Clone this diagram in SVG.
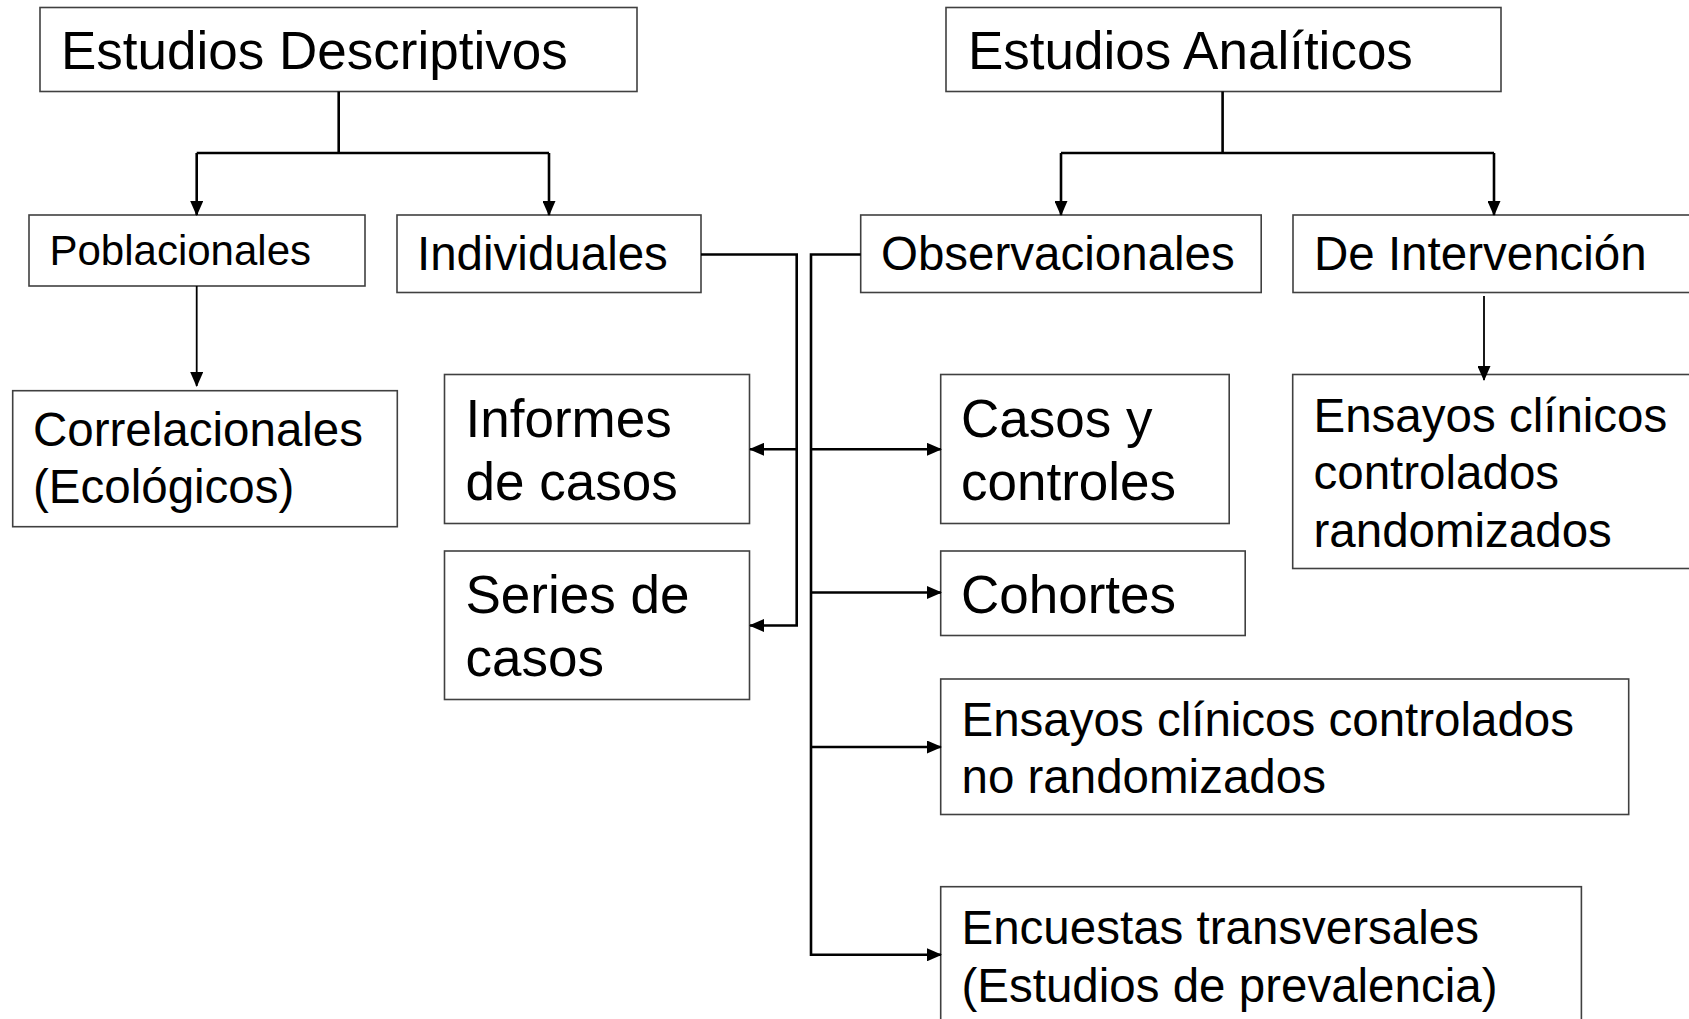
<svg xmlns="http://www.w3.org/2000/svg" width="1689" height="1019" viewBox="0 0 1689 1019">
<style>
.box{fill:#fff;stroke:#404040;stroke-width:1.6}
.t{font-family:"Liberation Sans",Arial,sans-serif;fill:#000;font-size:47.5px}
.big{font-size:53px}
.sm{font-size:42px}
.c{fill:none;stroke:#000;stroke-width:2.6}
.a{marker-end:url(#ah)}
</style>
<defs>
<marker id="ah" markerUnits="userSpaceOnUse" markerWidth="15" markerHeight="13" refX="14" refY="6.5" orient="auto">
<path d="M0,0 L15,6.5 L0,13 z" fill="#000"/>
</marker>
</defs>
<rect width="1689" height="1019" fill="#fff"/>

<g id="n-desc"><rect class="box" x="40" y="7.5" width="597" height="84"/><text class="t big" x="61" y="68.5">Estudios Descriptivos</text></g>
<g id="n-anal"><rect class="box" x="946" y="7.5" width="555" height="84"/><text class="t big" x="968" y="68.5">Estudios Analíticos</text></g>
<g id="n-pob"><rect class="box" x="29" y="215" width="336" height="71"/><text class="t sm" x="49.5" y="265">Poblacionales</text></g>
<g id="n-ind"><rect class="box" x="397" y="215" width="304" height="77.5"/><text class="t" x="417" y="270">Individuales</text></g>
<g id="n-obs"><rect class="box" x="860.7" y="215" width="400.5" height="77.5"/><text class="t" x="881" y="270">Observacionales</text></g>
<g id="n-int"><rect class="box" x="1293" y="215" width="420" height="77.5"/><text class="t" x="1314" y="270">De Intervención</text></g>
<g id="n-corr"><rect class="box" x="12.7" y="390.7" width="384.6" height="136"/><text class="t" x="33" y="445.5">Correlacionales</text><text class="t" x="33" y="503">(Ecológicos)</text></g>
<g id="n-inf"><rect class="box" x="444.5" y="374.5" width="305" height="149"/><text class="t big" x="465.5" y="437">Informes</text><text class="t big" x="465.5" y="500">de casos</text></g>
<g id="n-ser"><rect class="box" x="444.5" y="551" width="305" height="148.5"/><text class="t big" x="465.5" y="612.5">Series de</text><text class="t big" x="465.5" y="675.5">casos</text></g>
<g id="n-cas"><rect class="box" x="940.7" y="374.5" width="288.5" height="149"/><text class="t big" x="961" y="437">Casos y</text><text class="t big" x="961" y="500">controles</text></g>
<g id="n-coh"><rect class="box" x="940.7" y="551" width="304.5" height="84.5"/><text class="t big" x="961" y="613">Cohortes</text></g>
<g id="n-ecr"><rect class="box" x="1292.7" y="374.5" width="420" height="194"/><text class="t" x="1313.5" y="431.5">Ensayos clínicos</text><text class="t" x="1313.5" y="489">controlados</text><text class="t" x="1313.5" y="546.5">randomizados</text></g>
<g id="n-ecnr"><rect class="box" x="940.7" y="679" width="688" height="135.5"/><text class="t" x="961.5" y="735.5">Ensayos clínicos controlados</text><text class="t" x="961.5" y="793">no randomizados</text></g>
<g id="n-enc"><rect class="box" x="940.7" y="886.7" width="640.7" height="150"/><text class="t" x="961.5" y="944">Encuestas transversales</text><text class="t" x="961.5" y="1001.5">(Estudios de prevalencia)</text></g>

<g id="connectors">
<path class="c" d="M338.7,91.5 V153 M196.7,153 H549"/>
<path class="c a" d="M196.7,153 V215"/>
<path class="c a" d="M549,153 V215"/>
<path class="c" d="M1222.6,91.5 V153 M1061,153 H1494"/>
<path class="c a" d="M1061,153 V215"/>
<path class="c a" d="M1494,153 V215"/>
<path class="c a" style="stroke-width:1.8" d="M196.7,286 V386"/>
<path class="c a" style="stroke-width:1.8" d="M1484,296 V380"/>
<path class="c a" d="M701,254.5 H796.7 V625.5 H750"/>
<path class="c a" d="M796.7,449.3 H750"/>
<path class="c a" d="M860.7,254.5 H811 V954.8 H941"/>
<path class="c a" d="M811,449.3 H941"/>
<path class="c a" d="M811,592.5 H941"/>
<path class="c a" d="M811,747 H941"/>
</g>
</svg>
